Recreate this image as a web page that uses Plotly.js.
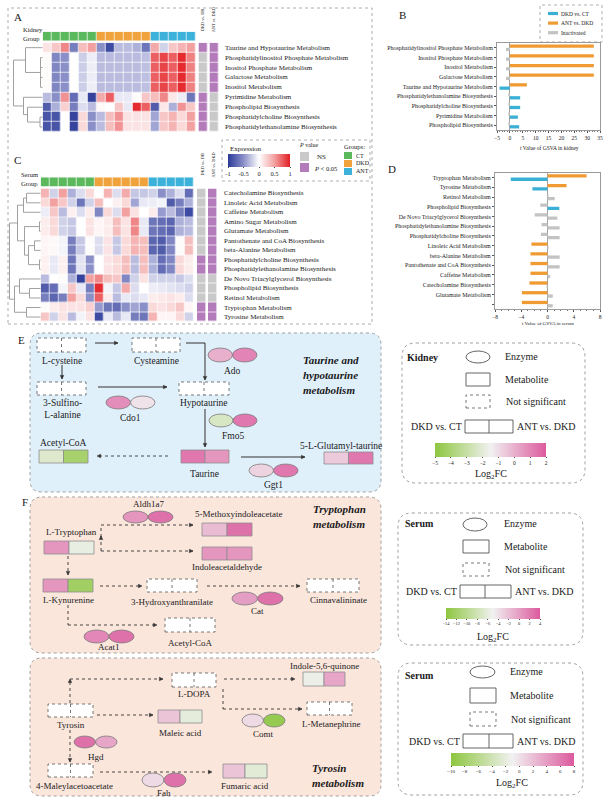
<!DOCTYPE html>
<html><head><meta charset="utf-8">
<script src="https://cdn.plot.ly/plotly-3.0.1.min.js"></script>
<style>html,body{margin:0;padding:0;background:#fff}#plot{width:611px;height:801px}</style>
</head><body><div id="plot"></div>
<script>
// ---------------- DATA ----------------
const groupNames = ['CT','DKD','ANT'];
const sampleGroups = [0,0,0,0,0,0,1,1,1,1,1,1,2,2,2,2,2];

const kidneyPathways = ['Taurine and Hypotaurine Metabolism','Phosphatidylinositol Phosphate Metabolism','Inositol Phosphate Metabolism','Galactose Metabolism','Inositol Metabolism','Pyrimidine Metabolism','Phospholipid Biosynthesis','Phosphatidylcholine Biosynthesis','Phosphatidylethanolamine Biosynthesis'];
const kidneyExpr = [
 [0.15,0.3,0.6,-0.6,0.35,0.5,-0.5,-0.9,-0.3,-0.3,-0.35,-0.65,0.45,-0.2,0.3,0.4,0.5],
 [0.02,-0.55,-0.5,0.0,-0.22,-0.08,-0.3,-0.3,-0.3,-0.3,-0.3,-0.28,0.75,0.85,0.75,0.95,0.62],
 [0.02,-0.55,-0.5,0.0,-0.22,-0.08,-0.3,-0.3,-0.3,-0.3,-0.3,-0.28,0.75,0.85,0.75,0.95,0.62],
 [0.02,-0.55,-0.5,0.0,-0.22,-0.08,-0.3,-0.3,-0.3,-0.3,-0.3,-0.28,0.75,0.85,0.75,0.95,0.62],
 [0.02,-0.55,-0.5,0.0,-0.22,-0.08,-0.3,-0.3,-0.3,-0.3,-0.3,-0.28,0.75,0.85,0.75,0.95,0.62],
 [-0.3,-0.5,0.55,-0.7,-0.1,-0.95,0.45,0.75,-0.1,-0.1,0.02,0.3,0.35,0.6,0.12,-0.08,-0.65],
 [-0.8,-0.35,0.25,-0.6,-0.15,-0.3,0.03,0.0,0.3,-0.1,0.95,0.75,-0.8,0.12,-0.35,0.55,0.3],
 [-0.85,-0.85,0.0,-0.95,0.2,-0.5,-0.3,0.35,0.55,0.15,0.15,0.15,-0.4,0.3,0.4,0.2,0.5],
 [-0.85,-0.85,0.0,-0.95,0.2,-0.5,-0.3,0.35,0.55,0.15,0.15,0.15,-0.4,0.3,0.4,0.2,0.5]
];
const kidneySigDKD = [1,0,0,0,0,1,1,1,1];
const kidneySigANT = [1,1,1,1,1,0,0,0,0];

const serumPathways = ['Catecholamine Biosynthesis','Linoleic Acid Metabolism','Caffeine Metabolism','Amino Sugar Metabolism','Glutamate Metabolism','Pantothenate and CoA Biosynthesis','beta-Alanine Metabolism','Phosphatidylcholine Biosynthesis','Phosphatidylethanolamine Biosynthesis','De Novo Triacylglycerol Biosynthesis','Phospholipid Biosynthesis','Retinol Metabolism','Tryptophan Metabolism','Tyrosine Metabolism'];
const serumExpr = [
 [0.4,-0.2,0.5,-0.35,-0.15,0.2,0.0,0.4,-0.15,0.45,-0.25,-0.25,-0.2,-0.5,-0.35,-0.15,-0.7],
 [0.2,0.5,0.3,-0.2,-0.65,-0.2,0.35,0.0,0.08,0.2,-0.4,-0.1,-0.08,-0.05,-0.8,-0.6,-0.35],
 [-0.08,0.3,-0.3,0.08,-0.15,0.1,-0.55,0.2,-0.15,0.5,0.15,0.0,0.1,-0.45,-0.3,-0.6,-0.9],
 [0.1,0.2,-0.2,-0.25,0.0,0.15,0.05,0.1,0.35,0.15,0.6,-0.1,-0.65,-0.7,-0.75,-0.35,-0.3],
 [0.1,0.2,-0.2,-0.25,0.0,0.15,0.05,0.1,0.35,0.15,0.6,-0.1,-0.65,-0.7,-0.75,-0.35,-0.3],
 [0.05,0.03,-0.05,-0.6,-0.25,0.02,-0.15,0.15,-0.25,0.2,0.4,0.35,-0.75,-0.8,-0.55,0.02,0.35],
 [0.05,0.03,-0.05,-0.6,-0.25,0.02,-0.15,0.15,-0.25,0.2,0.4,0.35,-0.75,-0.8,-0.55,0.02,0.35],
 [0.08,-0.1,0.08,-0.65,-0.12,-0.5,0.0,0.15,0.2,0.35,-0.3,0.35,-0.35,-0.7,-0.55,0.2,0.1],
 [0.08,-0.1,0.08,-0.65,-0.12,-0.5,0.0,0.15,0.2,0.35,-0.3,0.35,-0.35,-0.7,-0.55,0.2,0.1],
 [-0.3,0.0,0.02,-0.35,-0.95,0.5,0.6,0.35,0.3,-0.55,-0.2,0.15,-0.2,-0.2,-0.2,-0.25,-0.15],
 [-0.8,-0.7,-0.05,0.3,-0.1,-0.6,0.95,-0.05,-0.25,0.45,-0.15,0.0,-0.08,-0.1,-0.12,-0.15,-0.2],
 [-0.6,-0.75,-0.6,0.5,0.2,-0.5,0.75,0.1,-0.3,-0.1,-0.15,-0.1,0.1,0.12,0.15,0.1,-0.15],
 [0.02,0.1,0.15,0.15,0.15,0.25,-0.45,-0.65,-0.7,-0.5,-0.4,-0.5,0.2,0.15,0.2,0.3,0.05],
 [0.3,-0.2,0.15,-0.3,-0.05,0.15,-0.9,-0.1,-0.3,-0.1,-0.6,-0.65,0.4,0.05,0.05,0.2,-0.2]
];
const serumSigDKD = [0,0,0,0,0,0,0,1,1,0,0,0,1,1];
const serumSigANT = [1,1,1,1,1,1,1,1,1,0,0,0,1,1];

const kidneyGsvaPathways = ['Phosphatidylinositol Phosphate Metabolism','Inositol Phosphate Metabolism','Inositol Metabolism','Galactose Metabolism','Taurine and Hypotaurine Metabolism','Phosphatidylethanolamine Biosynthesis','Phosphatidylcholine Biosynthesis','Pyrimidine Metabolism','Phospholipid Biosynthesis'];
const kidneyGsvaDKDvsCT = [-1.5,-1.5,-1.5,-1.5,-4.0,4.0,4.0,3.1,3.6];
const kidneyGsvaANTvsDKD = [32.6,32.6,32.6,32.6,6.6,-0.6,-0.6,-0.6,-0.6];
const kidneyGsvaSigDKD = [0,0,0,0,1,1,1,1,1];
const kidneyGsvaSigANT = [1,1,1,1,1,0,0,0,0];

const serumGsvaPathways = ['Tryptophan Metabolism','Tyrosine Metabolism','Retinol Metabolism','Phospholipid Biosynthesis','De Novo Triacylglycerol Biosynthesis','Phosphatidylethanolamine Biosynthesis','Phosphatidylcholine Biosynthesis','Linoleic Acid Metabolism','beta-Alanine Metabolism','Pantothenate and CoA Biosynthesis','Caffeine Metabolism','Catecholamine Biosynthesis','Glutamate Metabolism','Amino Sugar Metabolism'];
const serumGsvaTickLabels = ['Tryptophan Metabolism','Tyrosine Metabolism','Retinol Metabolism','Phospholipid Biosynthesis','De Novo Triacylglycerol Biosynthesis','Phosphatidylethanolamine Biosynthesis','Phosphatidylcholine Biosynthesis','Linoleic Acid Metabolism','beta-Alanine Metabolism','Pantothenate and CoA Biosynthesis','Caffeine Metabolism','Catecholamine Biosynthesis','Glutamate Metabolism',''];
const serumGsvaDKDvsCT = [-5.6,-2.3,1.1,1.8,1.5,1.85,1.85,0.15,1.85,1.85,0.4,-0.15,0.8,0.8];
const serumGsvaANTvsDKD = [5.95,2.9,0.15,-1.1,-1.95,-0.9,-1.0,-2.45,-2.6,-2.6,-2.6,-2.75,-3.9,-3.9];
const serumGsvaSigDKD = [1,1,0,1,0,0,0,0,0,0,0,0,0,0];
const serumGsvaSigANT = [1,1,0,0,0,0,0,1,1,1,1,1,1,1];

// pathway log2FC (null = not significant)
const kidneyMetNames = ['L-cysteine','Cysteamine','3-Sulfino-L-alanine','Hypotaurine','Taurine','Acetyl-CoA','5-L-Glutamyl-taurine'];
const kidneyMetDKD = [null,null,null,null,1.3,-2.2,-0.6];
const kidneyMetANT = [null,null,null,null,0.6,-4.1,1.3];
const kidneyEnzNames = ['Ado','Cdo1','Fmo5','Ggt1'];
const kidneyEnzDKD = [0.0,0.8,-2.4,-0.8];
const kidneyEnzANT = [1.0,-1.15,1.3,1.3];
const kidneyFCTicks = [-5,-4,-3,-2,-1,0,1,2];

const tryptMetNames = ['L-Tryptophan','5-Methoxyindoleacetate','Indoleacetaldehyde','L-Kynurenine','3-Hydroxyanthranilate','Cinnavalininate','Acetyl-CoA'];
const tryptMetDKD = [0.4,-1.85,0.4,0.4,null,null,null];
const tryptMetANT = [-5.7,2.65,0.4,-12.2,null,null,null];
const tryptEnzNames = ['Aldh1a7','Cat','Acat1'];
const tryptEnzDKD = [0.4,-0.05,1.3];
const tryptEnzANT = [2.65,2.65,2.65];
const tryptFCTicks = [-14,-12,-10,-8,-6,-4,-2,0,2,4];

const tyrMetNames = ['L-DOPA','Tyrosin','Maleic acid','Indole-5,6-quinone','L-Metanephrine','4-Maleylacetoacetate','Fumaric acid'];
const tyrMetDKD = [null,null,1.7,-1.45,null,null,1.7];
const tyrMetANT = [null,null,-2.1,3.5,null,null,-2.35];
const tyrEnzNames = ['Comt','Hgd','Fah'];
const tyrEnzDKD = [0.35,6.65,0.35];
const tyrEnzANT = [-9.1,3.5,6.65];
const tyrFCTicks = [-10,-8,-6,-4,-2,0,2,4,6,8];

// ---------------- STYLE / GEOMETRY ----------------
const W=611,H=801;
const dx=p=>p/W, dy=p=>1-p/H;
const SERIF='Liberation Serif, Times New Roman, serif';
const groupColors=['#5cb85c','#f0a23c','#3cb2da'];
const nsGrey='#c9c9c9', sigPurple='#b47bbb';
const exprScale=[[0,'#2b3a98'],[0.25,'#8a8fc8'],[0.5,'#ffffff'],[0.75,'#f2a0a0'],[1,'#e31e24']];
const fcScale=[[0,'#8dc63f'],[0.5,'#f1f1f1'],[1,'#dc5a9e']];
const cBlue='#3bb0d6', cOrange='#f09a32', cGrey='#c3c3c3';

const shapes=[], annotations=[];
function T(text,x,y,size,o={}){annotations.push({text,x:dx(x),y:dy(y),xref:'paper',yref:'paper',xanchor:o.anchor||'center',yanchor:o.yanchor||'middle',showarrow:false,textangle:o.angle||0,font:{family:SERIF,size,color:o.color||'#1a1a1a'},borderpad:0});}
function R(x0,y0,x1,y1,fill,lc,lw,dash){shapes.push({type:'rect',xref:'paper',yref:'paper',x0:dx(x0),x1:dx(x1),y0:dy(y1),y1:dy(y0),fillcolor:fill||'rgba(0,0,0,0)',line:{color:lc||'rgba(0,0,0,0)',width:lw||0,dash:dash||'solid'}});}
function EL(x0,y0,x1,y1,fill,lc,lw){shapes.push({type:'circle',xref:'paper',yref:'paper',x0:dx(x0),x1:dx(x1),y0:dy(y1),y1:dy(y0),fillcolor:fill,line:{color:lc,width:lw}});}
function LN(x0,y0,x1,y1,lc,lw,dash){shapes.push({type:'line',xref:'paper',yref:'paper',x0:dx(x0),x1:dx(x1),y0:dy(y0),y1:dy(y1),line:{color:lc,width:lw,dash:dash||'solid'}});}
const pt=(x,y)=>`${dx(x).toFixed(5)},${dy(y).toFixed(5)}`;
function rrect(x0,y0,x1,y1,r,fill,lc,dash){
  const d=`M${pt(x0+r,y0)} L${pt(x1-r,y0)} Q${pt(x1,y0)} ${pt(x1,y0+r)} L${pt(x1,y1-r)} Q${pt(x1,y1)} ${pt(x1-r,y1)} L${pt(x0+r,y1)} Q${pt(x0,y1)} ${pt(x0,y1-r)} L${pt(x0,y0+r)} Q${pt(x0,y0)} ${pt(x0+r,y0)} Z`;
  shapes.push({type:'path',xref:'paper',yref:'paper',path:d,fillcolor:fill,line:{color:lc,width:1,dash:dash||'dot'},layer:'below'});
}
function arrow(pts,dashed,head=true){
  const col='#333';
  for(let i=0;i<pts.length-1;i++) LN(pts[i][0],pts[i][1],pts[i+1][0],pts[i+1][1],col,dashed?0.9:1,dashed?'dot':'solid');
  if(!head) return;
  const [tx,ty]=pts[pts.length-1],[sx,sy]=pts[pts.length-2];
  let ux=tx-sx,uy=ty-sy;const n=Math.hypot(ux,uy);ux/=n;uy/=n;
  const L=3.6,w=1.8,bx=tx-L*ux,by=ty-L*uy;
  shapes.push({type:'path',xref:'paper',yref:'paper',path:`M${pt(tx,ty)} L${pt(bx-w*uy,by+w*ux)} L${pt(bx+w*uy,by-w*ux)} Z`,fillcolor:col,line:{color:col,width:0.5}});
}
function hexToRgb(h){return [parseInt(h.slice(1,3),16),parseInt(h.slice(3,5),16),parseInt(h.slice(5,7),16)];}
function fcColor(v,min,max){
  let t=Math.max(0,Math.min(1,(v-min)/(max-min)));
  for(let i=0;i<fcScale.length-1;i++){
    const [t0,c0]=fcScale[i],[t1,c1]=fcScale[i+1];
    if(t<=t1){const f=(t-t0)/(t1-t0);const a=hexToRgb(c0),b=hexToRgb(c1);
      return `rgb(${a.map((v,k)=>Math.round(v+(b[k]-v)*f)).join(',')})`;}
  }
  return fcScale[fcScale.length-1][1];
}
function metab(box,dkd,ant,rng){
  const [x0,y0,x1,y1]=box, xm=(x0+x1)/2;
  if(dkd==null){
    R(x0,y0,x1,y1,'#ffffff','#555',0.8,'dot');
    LN(xm,y0,xm,y1,'#555',0.8,'dot');
  } else {
    R(x0,y0,xm,y1,fcColor(dkd,rng[0],rng[1]),'#8e8e8e',0.8);
    R(xm,y0,x1,y1,fcColor(ant,rng[0],rng[1]),'#8e8e8e',0.8);
  }
}
function enzyme(box,dkd,ant,rng){
  const [x0,y0,x1,y1]=box, xm=(x0+x1)/2;
  EL(x0,y0,xm,y1,fcColor(dkd,rng[0],rng[1]),'#7a7a7a',0.8);
  EL(xm,y0,x1,y1,fcColor(ant,rng[0],rng[1]),'#7a7a7a',0.8);
}

// ---------------- TRACES ----------------
const traces=[];
const cols=sampleGroups.map((_,i)=>i);
const grpScale=[[0,groupColors[0]],[0.3333,groupColors[0]],[0.3333,groupColors[1]],[0.6667,groupColors[1]],[0.6667,groupColors[2]],[1,groupColors[2]]];
const sigScale=[[0,nsGrey],[0.5,nsGrey],[0.5,sigPurple],[1,sigPurple]];

// Heatmap A
traces.push({type:'heatmap',x:cols,y:kidneyPathways.map((_,i)=>i),z:kidneyExpr,colorscale:exprScale,zmin:-1,zmax:1,xgap:0.7,ygap:0.7,xaxis:'x',yaxis:'y',hoverinfo:'skip',
  showscale:true,colorbar:{orientation:'h',x:dx(259),xanchor:'center',y:dy(154),yanchor:'top',len:62,lenmode:'pixels',thickness:13,thicknessmode:'pixels',xpad:0,ypad:0,outlinewidth:0,tickvals:[-1,-0.5,0,0.5,1],ticktext:['-1','-0.5','0','0.5','1'],ticks:'outside',ticklen:1.5,tickfont:{family:SERIF,size:6.5,color:'#222'}}});
traces.push({type:'heatmap',x:cols,y:[0],z:[sampleGroups],colorscale:grpScale,zmin:0,zmax:2,xgap:0.7,xaxis:'x',yaxis:'y3',showscale:false,hoverinfo:'skip'});
traces.push({type:'heatmap',x:[0,1],y:kidneyPathways.map((_,i)=>i),z:kidneySigDKD.map((v,i)=>[v,kidneySigANT[i]]),colorscale:sigScale,zmin:0,zmax:1,xgap:2.7,ygap:0.7,xaxis:'x3',yaxis:'y',showscale:false,hoverinfo:'skip'});
// Heatmap C
traces.push({type:'heatmap',x:cols,y:serumPathways.map((_,i)=>i),z:serumExpr,colorscale:exprScale,zmin:-1,zmax:1,xgap:0.7,ygap:0.7,xaxis:'x2',yaxis:'y2',showscale:false,hoverinfo:'skip'});
traces.push({type:'heatmap',x:cols,y:[0],z:[sampleGroups],colorscale:grpScale,zmin:0,zmax:2,xgap:0.7,xaxis:'x2',yaxis:'y4',showscale:false,hoverinfo:'skip'});
traces.push({type:'heatmap',x:[0,1],y:serumPathways.map((_,i)=>i),z:serumSigDKD.map((v,i)=>[v,serumSigANT[i]]),colorscale:sigScale,zmin:0,zmax:1,xgap:2.6,ygap:0.7,xaxis:'x4',yaxis:'y2',showscale:false,hoverinfo:'skip'});
// Bars B
traces.push({type:'bar',orientation:'h',y:kidneyGsvaPathways,x:kidneyGsvaANTvsDKD,marker:{color:kidneyGsvaSigANT.map(s=>s?cOrange:cGrey),line:{width:0}},xaxis:'x5',yaxis:'y5',hoverinfo:'skip'});
traces.push({type:'bar',orientation:'h',y:kidneyGsvaPathways,x:kidneyGsvaDKDvsCT,marker:{color:kidneyGsvaSigDKD.map(s=>s?cBlue:cGrey),line:{width:0}},xaxis:'x5',yaxis:'y5',hoverinfo:'skip'});
// Bars D
traces.push({type:'bar',orientation:'h',y:serumGsvaPathways,x:serumGsvaANTvsDKD,marker:{color:serumGsvaSigANT.map(s=>s?cOrange:cGrey),line:{width:0}},xaxis:'x6',yaxis:'y6',hoverinfo:'skip'});
traces.push({type:'bar',orientation:'h',y:serumGsvaPathways,x:serumGsvaDKDvsCT,marker:{color:serumGsvaSigDKD.map(s=>s?cBlue:cGrey),line:{width:0}},xaxis:'x6',yaxis:'y6',hoverinfo:'skip'});
// Log2FC colour bars
function fcBar(ticks,x0,y0,x1,y1,fs){
  traces.push({type:'scatter',mode:'markers',x:[0,0],y:[0,0],xaxis:'x7',yaxis:'y7',hoverinfo:'skip',
    marker:{size:1,opacity:0,color:[ticks[0],ticks[ticks.length-1]],cmin:ticks[0],cmax:ticks[ticks.length-1],colorscale:fcScale,showscale:true,
      colorbar:{orientation:'h',x:dx((x0+x1)/2),xanchor:'center',y:dy(y0),yanchor:'top',len:x1-x0,lenmode:'pixels',thickness:y1-y0,thicknessmode:'pixels',xpad:0,ypad:0,outlinewidth:0,
        tickvals:ticks,ticks:'outside',ticklen:1.5,tickcolor:'#555',tickfont:{family:SERIF,size:fs,color:'#222'}}}});
}
fcBar(kidneyFCTicks,435,443,546,457,5.5);
fcBar(tryptFCTicks,446,608,540,619,4.3);
fcBar(tyrFCTicks,451,753,574,766,5);

// ---------------- AXES ----------------
const hid={visible:false,showgrid:false,zeroline:false,fixedrange:true};
const layout={width:W,height:H,margin:{l:0,r:0,t:0,b:0},paper_bgcolor:'#ffffff',plot_bgcolor:'rgba(0,0,0,0)',showlegend:false,
  bargap:0.32,bargroupgap:0,barmode:'group',
  xaxis:Object.assign({},hid,{domain:[dx(42.7),dx(196)],range:[-0.5,16.5],anchor:'y'}),
  yaxis:Object.assign({},hid,{domain:[dy(132),dy(42.7)],range:[8.5,-0.5],anchor:'x'}),
  yaxis3:Object.assign({},hid,{domain:[dy(40.7),dy(31.7)],range:[0.5,-0.5],anchor:'x'}),
  xaxis3:Object.assign({},hid,{domain:[dx(197.65),dx(219.65)],range:[-0.5,1.5],anchor:'y'}),
  xaxis2:Object.assign({},hid,{domain:[dx(40.7),dx(194)],range:[-0.5,16.5],anchor:'y2'}),
  yaxis2:Object.assign({},hid,{domain:[dy(321.8),dy(188.5)],range:[13.5,-0.5],anchor:'x2'}),
  yaxis4:Object.assign({},hid,{domain:[dy(186.7),dy(177.3)],range:[0.5,-0.5],anchor:'x2'}),
  xaxis4:Object.assign({},hid,{domain:[dx(196),dx(218)],range:[-0.5,1.5],anchor:'y2'}),
  xaxis7:Object.assign({},hid,{domain:[0,0.01],anchor:'y7'}),
  yaxis7:Object.assign({},hid,{domain:[0,0.01],anchor:'x7'}),
  xaxis5:{domain:[dx(497),dx(600)],anchor:'y5',range:[-5,35],dtick:5,tick0:0,ticks:'outside',ticklen:2,tickcolor:'#555',tickfont:{family:SERIF,size:5.5,color:'#222'},
    showline:true,mirror:true,linecolor:'#9a9a9a',linewidth:1,showgrid:false,zeroline:true,zerolinecolor:'#a0a0a0',zerolinewidth:1,fixedrange:true,
    minor:{ticks:'outside',dtick:1,ticklen:1,tickcolor:'#777'}},
  yaxis5:{domain:[dy(130),dy(43)],anchor:'x5',type:'category',autorange:'reversed',ticks:'outside',ticklen:2,tickcolor:'#555',tickfont:{family:SERIF,size:6,color:'#222'},
    showline:true,mirror:true,linecolor:'#9a9a9a',linewidth:1,showgrid:false,fixedrange:true},
  xaxis6:{domain:[dx(495),dx(600)],anchor:'y6',range:[-8,8],dtick:4,tick0:0,ticks:'outside',ticklen:2,tickcolor:'#555',tickfont:{family:SERIF,size:5.5,color:'#222'},
    showline:true,mirror:true,linecolor:'#9a9a9a',linewidth:1,showgrid:false,zeroline:true,zerolinecolor:'#a0a0a0',zerolinewidth:1,fixedrange:true,
    minor:{ticks:'outside',dtick:1,ticklen:1,tickcolor:'#777'}},
  yaxis6:{domain:[dy(309),dy(172.7)],anchor:'x6',type:'category',autorange:'reversed',tickmode:'array',tickvals:serumGsvaPathways,ticktext:serumGsvaTickLabels,ticks:'outside',ticklen:2,tickcolor:'#555',tickfont:{family:SERIF,size:6,color:'#222'},
    showline:true,mirror:true,linecolor:'#9a9a9a',linewidth:1,showgrid:false,fixedrange:true}
};

// ---------------- PANELS A / C decorations ----------------
R(8,8,372,324,null,'#9a9a9a',0.8,'dot');
T('A',13,17,11,{anchor:'left'});
T('C',13,160,11,{anchor:'left'});
T('Kidney',22,30,6.5,{anchor:'left'}); T('Group',22,38,6.5,{anchor:'left'});
T('Serum',20,175,6.5,{anchor:'left'}); T('Group',20,183,6.5,{anchor:'left'});
T('DKD vs. DB',203.2,20,4.3,{angle:-90}); T('ANT vs. DKD',214.2,20,4.3,{angle:-90});
T('DKD vs. DB',201.5,164,4.3,{angle:-90}); T('ANT vs. DKD',212.5,165,4.3,{angle:-90});
kidneyPathways.forEach((p,i)=>annotations.push({text:p,x:dx(223),xref:'paper',y:i,yref:'y',xanchor:'left',yanchor:'middle',showarrow:false,font:{family:SERIF,size:7,color:'#1a1a1a'}}));
serumPathways.forEach((p,i)=>annotations.push({text:p,x:dx(222),xref:'paper',y:i,yref:'y2',xanchor:'left',yanchor:'middle',showarrow:false,font:{family:SERIF,size:7,color:'#1a1a1a'}}));
// dendrograms
function dendro(node,leafY,leftX){
  if(typeof node==='number') return {x:leftX,y:leafY(node)};
  const kids=node.c.map(k=>dendro(k,leafY,leftX));
  const x=leftX-node.h, ys=kids.map(k=>k.y), y0=Math.min(...ys), y1=Math.max(...ys);
  LN(x,y0,x,y1,'#a0a0a0',1);
  kids.forEach(k=>LN(x,k.y,k.x,k.y,'#a0a0a0',1));
  return {x,y:(y0+y1)/2};
}
const treeA={h:29,c:[{h:17,c:[0,{h:2,c:[1,2,3,4]}]},{h:19,c:[5,{h:15,c:[6,{h:2.5,c:[7,8]}]}]}]};
const treeC={h:31,c:[{h:23,c:[{h:17,c:[{h:14,c:[0,1]},2]},{h:16,c:[{h:1,c:[3,4]},{h:12,c:[{h:6,c:[5,6]},{h:1,c:[7,8]}]}]}]},{h:26,c:[{h:21,c:[9,{h:11,c:[10,11]}]},{h:14,c:[12,13]}]}]};
dendro(treeA,i=>42.7+(i+0.5)*(132-42.7)/9,42.5);
dendro(treeC,i=>188.5+(i+0.5)*(321.8-188.5)/14,40.5);
// legend box
R(222,140,370,181,null,'#9a9a9a',0.8,'dot');
T('Expression',229,149,7,{anchor:'left'});
T('<i>P</i> value',309,145,6,{});
R(300,152,309,161,nsGrey); T('NS',316,157,7,{anchor:'left'});
R(300,163,309,172,sigPurple); T('<i>P</i> < 0.05',313,169,6.5,{anchor:'left'});
T('Groups:',343,146,6.5,{anchor:'left'});
groupNames.forEach((g,i)=>{R(344,152+i*8,352,159+i*8,groupColors[i]);T(g,355,155.5+i*8,6,{anchor:'left'});});

// ---------------- PANELS B / D decorations ----------------
T('B',398,15,11,{anchor:'left'});
T('D',387,169,11,{anchor:'left'});
R(540,5,602,42,null,'#9a9a9a',0.8,'dot');
[[cBlue,'DKD vs. CT'],[cOrange,'ANT vs. DKD'],[cGrey,'Inactivated']].forEach((e,i)=>{const y=13.5+i*9.6;R(548,y-1.6,558,y+1.6,e[0]);T(e[1],560,y,5.5,{anchor:'left'});});
T('t Value of GSVA in kidney',549,148,5.5,{});
T('t Value of GSVA in serum',548,323.5,5,{});

// ---------------- PANEL E ----------------
T('E',17,340,11,{anchor:'left'});
rrect(30,333,381,492,12,'#e0f0fa','#a0a0a0');
const kidneyMetPos={'L-cysteine':[37,338,86,352],'Cysteamine':[132,338,180,352],'3-Sulfino-L-alanine':[37,382,86,395],'Hypotaurine':[179,382,229,395],'Taurine':[181,450,229,463],'Acetyl-CoA':[39,450,88,463],'5-L-Glutamyl-taurine':[324,452,373,464]};
const kidneyMetLab={'L-cysteine':['L-cysteine',62,361],'Cysteamine':['Cysteamine',156,361],'3-Sulfino-L-alanine':['3-Sulfino-<br>L-alanine',62,409],'Hypotaurine':['Hypotaurine',204,403],'Taurine':['Taurine',205,474],'Acetyl-CoA':['Acetyl-CoA',63,443],'5-L-Glutamyl-taurine':['5-L-Glutamyl-taurine',341,446]};
const kidneyEnzPos={'Ado':[208,348,257,362],'Cdo1':[106,396,155,409],'Fmo5':[209,414,257,427],'Ggt1':[249,464,298,477]};
const kidneyEnzLab={'Ado':[232,371],'Cdo1':[130,418],'Fmo5':[233,436],'Ggt1':[273,485]};
const KR=[kidneyFCTicks[0],kidneyFCTicks[kidneyFCTicks.length-1]];
arrow([[95,343],[118,343]]);
arrow([[186,343],[205,343],[205,380]]);
arrow([[62,365],[62,379]]);
arrow([[98,387],[167,387]]);
arrow([[205,409],[205,447]]);
arrow([[168,456],[97,456]],true);
arrow([[241,457],[305,457]]);
kidneyMetNames.forEach((n,i)=>{metab(kidneyMetPos[n],kidneyMetDKD[i],kidneyMetANT[i],KR);const l=kidneyMetLab[n];T(l[0],l[1],l[2],9.5);});
kidneyEnzNames.forEach((n,i)=>{enzyme(kidneyEnzPos[n],kidneyEnzDKD[i],kidneyEnzANT[i],KR);const l=kidneyEnzLab[n];T(n,l[0],l[1],9.5);});
T('<b><i>Taurine and</i></b>',302,360,11,{anchor:'left'});
T('<b><i>hypotaurine</i></b>',302,375,11,{anchor:'left'});
T('<b><i>metabolism</i></b>',302,390,11,{anchor:'left'});

// ---------------- PANEL F ----------------
T('F',21,502,11,{anchor:'left'});
rrect(30,497,381,653,12,'#fbe6dc','#a0a0a0');
rrect(30,658,381,796,12,'#fbe6dc','#a0a0a0');
const TR=[tryptFCTicks[0],tryptFCTicks[tryptFCTicks.length-1]];
const tryptMetPos={'L-Tryptophan':[44,541,94,554],'5-Methoxyindoleacetate':[202,523,252,536],'Indoleacetaldehyde':[202,547,252,560],'L-Kynurenine':[43,579,93,592],'3-Hydroxyanthranilate':[147,579,197,592],'Cinnavalininate':[307,579,359,592],'Acetyl-CoA':[165,618,215,632]};
const tryptMetLab={'L-Tryptophan':[71,532],'5-Methoxyindoleacetate':[238,514],'Indoleacetaldehyde':[227,567],'L-Kynurenine':[68,600],'3-Hydroxyanthranilate':[172,602],'Cinnavalininate':[338,600],'Acetyl-CoA':[190,643]};
const tryptEnzPos={'Aldh1a7':[123,511,173,523],'Cat':[232,592,283,605],'Acat1':[84,630,134,643]};
const tryptEnzLab={'Aldh1a7':[148,504],'Cat':[257,611],'Acat1':[109,647]};
arrow([[101,551],[101,536]],true);
arrow([[101,537],[101,525],[193,525]],true);
arrow([[101,551],[193,551]],true);
arrow([[68,556],[68,575]],true);
arrow([[100,586],[142,586]],true);
arrow([[207,586],[300,586]],true);
arrow([[68,605],[68,625],[157,625]],true);
tryptMetNames.forEach((n,i)=>{metab(tryptMetPos[n],tryptMetDKD[i],tryptMetANT[i],TR);const l=tryptMetLab[n];T(n,l[0],l[1],9);});
tryptEnzNames.forEach((n,i)=>{enzyme(tryptEnzPos[n],tryptEnzDKD[i],tryptEnzANT[i],TR);const l=tryptEnzLab[n];T(n,l[0],l[1],9);});
T('<b><i>Tryptophan</i></b>',312,509,11,{anchor:'left'});
T('<b><i>metabolism</i></b>',312,524,11,{anchor:'left'});

const YR=[tyrFCTicks[0],tyrFCTicks[tyrFCTicks.length-1]];
const tyrMetPos={'L-DOPA':[172,673,216,687],'Tyrosin':[48,704,93,717],'Maleic acid':[158,710,202,723],'Indole-5,6-quinone':[303,672,345,686],'L-Metanephrine':[307,702,352,715],'4-Maleylacetoacetate':[48,764,93,777],'Fumaric acid':[223,764,267,778]};
const tyrMetLab={'L-DOPA':[194,694],'Tyrosin':[71,725],'Maleic acid':[180,733],'Indole-5,6-quinone':[324,666],'L-Metanephrine':[331,724],'4-Maleylacetoacetate':[74,786],'Fumaric acid':[245,786]};
const tyrEnzPos={'Comt':[242,714,285,727],'Hgd':[74,736,117,748],'Fah':[142,773,186,787]};
const tyrEnzLab={'Comt':[263,734],'Hgd':[96,757],'Fah':[164,793]};
arrow([[70,703],[70,679]],true);
arrow([[70,679],[163,679]],true);
arrow([[97,715],[153,715]],true);
arrow([[224,679],[295,679]],true);
arrow([[223,689],[223,709],[302,709]],true);
arrow([[70,730],[70,762]],true);
arrow([[100,772],[212,772]],true);
tyrMetNames.forEach((n,i)=>{metab(tyrMetPos[n],tyrMetDKD[i],tyrMetANT[i],YR);const l=tyrMetLab[n];T(n,l[0],l[1],9);});
tyrEnzNames.forEach((n,i)=>{enzyme(tyrEnzPos[n],tyrEnzDKD[i],tyrEnzANT[i],YR);const l=tyrEnzLab[n];T(n,l[0],l[1],9);});
T('<b><i>Tyrosin</i></b>',311,768,11,{anchor:'left'});
T('<b><i>metabolism</i></b>',311,783,11,{anchor:'left'});

// ---------------- LEGEND BOXES ----------------
function legendBox(o){
  rrect(o.box[0],o.box[1],o.box[2],o.box[3],14,'#ffffff','#a0a0a0');
  T('<b>'+o.title+'</b>',o.title_xy[0],o.title_xy[1],10,{anchor:'left'});
  EL(o.enz[0],o.enz[1],o.enz[2],o.enz[3],'#ffffff','#555',0.9);
  T('Enzyme',o.tx,(o.enz[1]+o.enz[3])/2-1,10,{anchor:'left'});
  R(o.met[0],o.met[1],o.met[2],o.met[3],'#ffffff','#555',0.9);
  T('Metabolite',o.tx,(o.met[1]+o.met[3])/2,10,{anchor:'left'});
  R(o.ns[0],o.ns[1],o.ns[2],o.ns[3],'#ffffff','#555',0.8,'dot');
  T('Not significant',o.tx+1,(o.ns[1]+o.ns[3])/2,10,{anchor:'left'});
  const d=o.dbl, ym=(d[1]+d[3])/2;
  R(d[0],d[1],d[2],d[3],'#ffffff','#555',0.9); LN(d[4],d[1],d[4],d[3],'#555',0.9);
  T('DKD vs. CT',d[0]-2,ym,10,{anchor:'right'});
  T('ANT vs. DKD',d[2]+3,ym,10,{anchor:'left'});
  T('Log<sub>2</sub>FC',o.log[0],o.log[1],10);
}
legendBox({box:[402,343,585,483],title:'Kidney',title_xy:[406,357],enz:[466,351,490,363],met:[466,373,490,386],ns:[466,395,490,408],tx:504,dbl:[465,420,513,433,489],log:[491,474]});
legendBox({box:[398,513,583,645],title:'Serum',title_xy:[404,523],enz:[463,518,487,531],met:[463,540,489,553],ns:[463,563,489,576],tx:503,dbl:[460,585,511,598,485],log:[493,637]});
legendBox({box:[398,663,583,795],title:'Serum',title_xy:[404,675],enz:[470,666,495,678],met:[470,688,496,703],ns:[470,712,496,726],tx:509,dbl:[463,734,513,748,489],log:[512,783]});

layout.shapes=shapes; layout.annotations=annotations;
Plotly.newPlot('plot',traces,layout,{staticPlot:true,displayModeBar:false});
</script></body></html>
